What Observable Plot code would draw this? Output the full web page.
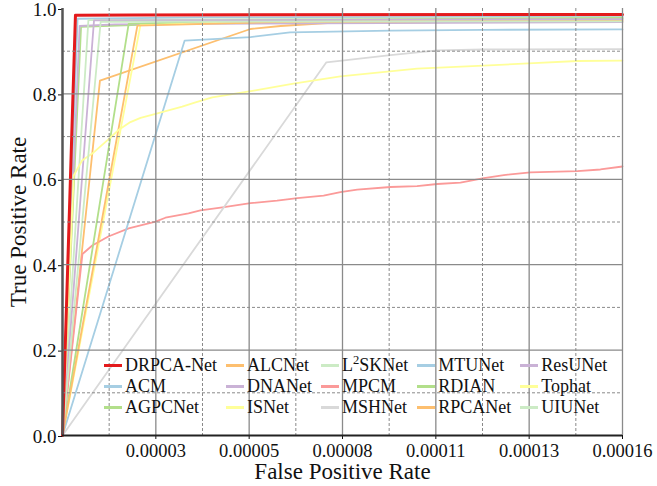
<!DOCTYPE html>
<html><head><meta charset="utf-8">
<script src="https://cdn.jsdelivr.net/npm/d3@7"></script>
<script src="https://cdn.jsdelivr.net/npm/@observablehq/plot@0.6"></script>
<style>
body{margin:0;background:#fff}
#wrap{position:relative;width:657px;height:486px;font-family:"Liberation Serif","Times New Roman",serif}
#legend{position:absolute;left:104px;top:355px;display:grid;grid-template-rows:repeat(3,21px);grid-auto-flow:column;column-gap:9px;font-size:18px;color:#111}
.item{display:flex;align-items:center;white-space:nowrap;line-height:21px}
.sw{width:18px;margin-right:3px}
sup{font-size:0.7em;line-height:0;vertical-align:0.55em}
</style>
</head><body>
<div id="wrap"><div id="legend"></div></div>
<script>
// ---- data (FPR, TPR) ----
const names = ["DRPCA-Net","ACM","AGPCNet","ALCNet","DNANet","ISNet","L2SKNet","MPCM","MSHNet","MTUNet","RDIAN","RPCANet","ResUNet","Tophat","UIUNet"];
const colors = ["#e31a1c","#a6cee3","#b2df8a","#fdbf6f","#cab2d6","#ffff99","#ccebc5","#fb9a99","#d9d9d9","#a6cee3","#b2df8a","#fdbf6f","#cab2d6","#ffff99","#ccebc5"];

const drpcaFpr = [0, 3.7e-6, 2.0e-5, 1.6e-4];
const drpcaTpr = [0, 0.984, 0.985, 0.986];
const acmFpr = [0, 4.3e-6, 4.0e-5, 1.6e-4];
const acmTpr = [0, 0.976, 0.979, 0.981];
const agpcFpr = [0, 5.3e-6, 5.5e-5, 1.6e-4];
const agpcTpr = [0, 0.957, 0.971, 0.977];
const alcFpr = [0, 1.07e-5, 5.37e-5, 6.23e-5, 7.57e-5, 1.6e-4];
const alcTpr = [0, 0.831, 0.952, 0.959, 0.966, 0.971];
const dnaFpr = [0, 4.9e-6, 1.5e-5, 1.6e-4];
const dnaTpr = [0, 0.959, 0.963, 0.968];
const isFpr = [0, 2.23e-5, 6.0e-5, 1.6e-4];
const isTpr = [0, 0.963, 0.972, 0.975];
const l2skFpr = [0, 7.4e-6, 1.6e-4];
const l2skTpr = [0, 0.973, 0.979];
const mpcmFpr = [0, 5.7e-6, 8.5e-6, 1.31e-5, 1.89e-5, 2.66e-5, 2.94e-5, 3.6e-5, 3.94e-5, 4.57e-5, 5.37e-5, 6.13e-5, 6.71e-5, 7.46e-5, 7.94e-5, 8.42e-5, 9.37e-5, 1.013e-4, 1.071e-4, 1.137e-4, 1.204e-4, 1.261e-4, 1.337e-4, 1.471e-4, 1.537e-4, 1.6e-4];
const mpcmTpr = [0, 0.425, 0.445, 0.466, 0.485, 0.501, 0.510, 0.520, 0.527, 0.534, 0.544, 0.550, 0.556, 0.562, 0.570, 0.576, 0.582, 0.584, 0.589, 0.592, 0.603, 0.610, 0.616, 0.619, 0.623, 0.630];
const mshFpr = [0, 7.54e-5, 9.37e-5, 1.071e-4, 1.203e-4, 1.6e-4];
const mshTpr = [0, 0.874, 0.891, 0.902, 0.904, 0.905];
const mtuFpr = [0, 3.49e-5, 5.37e-5, 6.5e-5, 9.37e-5, 1.2e-4, 1.6e-4];
const mtuTpr = [0, 0.925, 0.933, 0.944, 0.948, 0.950, 0.951];
const rdianFpr = [0, 1.89e-5, 5.0e-5, 1.6e-4];
const rdianTpr = [0, 0.964, 0.972, 0.978];
const rpcaFpr = [0, 2.14e-5, 6.0e-5, 1.6e-4];
const rpcaTpr = [0, 0.960, 0.968, 0.973];
const resuFpr = [0, 9.0e-6, 1.6e-4];
const resuTpr = [0, 0.972, 0.975];
const tophatFpr = [0, 3.2e-6, 5.6e-6, 8.9e-6, 1.28e-5, 1.61e-5, 1.94e-5, 2.23e-5, 2.66e-5, 3.42e-5, 3.8e-5, 4.28e-5, 5.51e-5, 6.6e-5, 7.94e-5, 1.013e-4, 1.203e-4, 1.346e-4, 1.471e-4, 1.6e-4];
const tophatTpr = [0, 0.609, 0.644, 0.663, 0.691, 0.716, 0.734, 0.744, 0.753, 0.770, 0.780, 0.792, 0.808, 0.824, 0.841, 0.859, 0.866, 0.872, 0.877, 0.878];
const uiuFpr = [0, 1.09e-5, 1.6e-4];
const uiuTpr = [0, 0.969, 0.970];

const xTicks = [2.6667e-5, 5.3333e-5, 8.0e-5, 1.06667e-4, 1.33333e-4, 1.6e-4];
const xTickLabels = ["0.00003","0.00005","0.00008","0.00011","0.00013","0.00016"];
const xMinor = [1.3333e-5, 4.0e-5, 6.6667e-5, 9.3333e-5, 1.2e-4, 1.46667e-4];
const yTicks = [0, 0.2, 0.4, 0.6, 0.8, 1.0];
const yMinor = [0.1, 0.3, 0.5, 0.7, 0.9];

// ---- build tidy table ----
const curves = [
  [drpcaFpr, drpcaTpr],[acmFpr, acmTpr],[agpcFpr, agpcTpr],[alcFpr, alcTpr],[dnaFpr, dnaTpr],
  [isFpr, isTpr],[l2skFpr, l2skTpr],[mpcmFpr, mpcmTpr],[mshFpr, mshTpr],[mtuFpr, mtuTpr],
  [rdianFpr, rdianTpr],[rpcaFpr, rpcaTpr],[resuFpr, resuTpr],[tophatFpr, tophatTpr],[uiuFpr, uiuTpr]
];
const rows = curves.flatMap(([f, t], k) => f.map((v, i) => ({name: names[k], fpr: v, tpr: t[i]})));
const others = rows.filter(d => d.name !== "DRPCA-Net");
const ours = rows.filter(d => d.name === "DRPCA-Net");
const grid = "#8a8a8a";

const chart = Plot.plot({
  width: 657, height: 486,
  marginLeft: 62, marginRight: 35, marginTop: 8, marginBottom: 51,
  style: {fontFamily: "'Liberation Serif','Times New Roman',serif", fontSize: "18px", color: "#111", background: "#fff"},
  x: {domain: [0, 1.6e-4]},
  y: {domain: [0, 1]},
  color: {domain: names, range: colors},
  marks: [
    Plot.line(others, {x: "fpr", y: "tpr", z: "name", stroke: "name", strokeWidth: 1.8}),
    Plot.line(ours, {x: "fpr", y: "tpr", z: "name", stroke: "name", strokeWidth: 3}),
    Plot.ruleY(yMinor, {stroke: grid, strokeWidth: 1, strokeDasharray: "3,2"}),
    Plot.ruleX(xMinor, {stroke: grid, strokeWidth: 1, strokeDasharray: "3,2"}),
    Plot.ruleY(yTicks.filter(v => v > 0 && v < 1), {stroke: grid, strokeWidth: 1.3}),
    Plot.ruleX(xTicks, {stroke: grid, strokeWidth: 1.3}),
    Plot.axisX(xTicks, {tickFormat: d => xTickLabels[xTicks.indexOf(d)], tickSize: 4, tickPadding: 4, label: null, fontSize: 18.5}),
    Plot.axisY(yTicks, {tickFormat: d3.format(".1f"), tickSize: 4, tickPadding: 2, label: null, fontSize: 19, dy: 1}),
    Plot.ruleX([0], {stroke: "#555", strokeWidth: 2.5}),
    Plot.ruleY([0], {stroke: "#222", strokeWidth: 2}),
    Plot.text(["False Positive Rate"], {frameAnchor: "bottom", lineAnchor: "middle", textAnchor: "middle", dy: 36, fontSize: 23}),
    Plot.text(["True Positive Rate"], {frameAnchor: "left", textAnchor: "middle", lineAnchor: "middle", dx: -44, rotate: -90, fontSize: 23})
  ]
});
document.getElementById("wrap").prepend(chart);

// ---- legend ----
const legend = document.getElementById("legend");
names.forEach((n, i) => {
  const it = document.createElement("div");
  it.className = "item";
  const sw = document.createElement("span");
  sw.className = "sw";
  sw.style.background = colors[i];
  sw.style.height = n === "DRPCA-Net" ? "3.5px" : "2.5px";
  const lab = document.createElement("span");
  if (n === "L2SKNet") lab.innerHTML = "L<sup>2</sup>SKNet"; else lab.textContent = n;
  it.append(sw, lab);
  legend.append(it);
});
</script>
</body></html>
